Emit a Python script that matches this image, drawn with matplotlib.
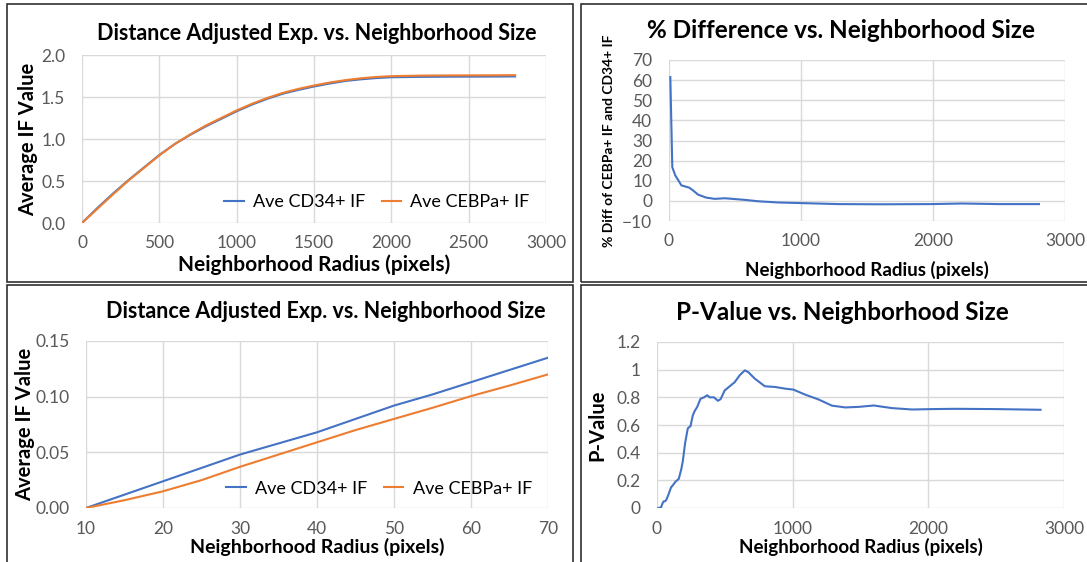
import matplotlib
matplotlib.use("Agg")
import matplotlib.pyplot as plt
import matplotlib.patches as mpatches

plt.rcParams["font.family"] = ["Lato", "DejaVu Sans"]

# ── Données ──────────────────────────────────────────────────────────
radius_full = [0, 100, 200, 300, 400, 500, 600, 700, 800, 900, 1000, 1100, 1200,
               1300, 1400, 1500, 1600, 1700, 1800, 1900, 2000, 2200, 2400, 2600, 2800]
cd34_full = [0.0, 0.18, 0.35, 0.51, 0.66, 0.81, 0.94, 1.05, 1.15, 1.24, 1.33, 1.41,
             1.48, 1.54, 1.585, 1.625, 1.66, 1.69, 1.71, 1.725, 1.735, 1.74, 1.742,
             1.743, 1.745]
cebpa_full = [0.0, 0.17, 0.34, 0.505, 0.655, 0.805, 0.94, 1.055, 1.16, 1.25, 1.34, 1.42,
              1.49, 1.55, 1.597, 1.637, 1.672, 1.70, 1.722, 1.738, 1.748, 1.755, 1.757,
              1.758, 1.76]

radius_diff = [10, 25, 48, 94, 152, 182, 220, 283, 347, 423, 575, 676, 828, 1000,
               1283, 1600, 1992, 2220, 2500, 2803]
pct_diff = [61.5, 16.7, 12.6, 7.7, 6.6, 5.2, 3.1, 1.6, 1.0, 1.3, 0.5, -0.2, -0.8,
            -1.1, -1.6, -1.7, -1.6, -1.3, -1.6, -1.6]

radius_small = [10, 15, 20, 25, 30, 35, 40, 45, 50, 55, 60, 65, 70]
cd34_small = [0.0, 0.012, 0.024, 0.036, 0.048, 0.058, 0.068, 0.080, 0.092, 0.102,
              0.113, 0.124, 0.135]
cebpa_small = [0.0, 0.007, 0.015, 0.025, 0.037, 0.048, 0.059, 0.070, 0.080, 0.090,
               0.1005, 0.110, 0.120]

radius_p = [10, 30, 42, 49, 59, 69, 84, 104, 116, 136, 160, 178, 190, 207, 227, 247,
            264, 277, 296, 321, 346, 370, 388, 420, 449, 469, 499, 536, 573, 610, 647,
            672, 721, 795, 869, 943, 1005, 1091, 1190, 1289, 1388, 1486, 1598, 1733,
            1881, 2030, 2202, 2499, 2827]
p_value = [0.0, 0.005, 0.036, 0.048, 0.048, 0.06, 0.096, 0.15, 0.163, 0.19, 0.21,
           0.276, 0.336, 0.468, 0.576, 0.592, 0.67, 0.70, 0.73, 0.79, 0.80, 0.815,
           0.80, 0.80, 0.775, 0.787, 0.85, 0.88, 0.91, 0.96, 0.995, 0.983, 0.935,
           0.88, 0.875, 0.863, 0.856, 0.82, 0.785, 0.74, 0.727, 0.731, 0.741, 0.722,
           0.712, 0.715, 0.717, 0.715, 0.71]

BLUE = "#4472C4"
ORANGE = "#ED7D31"
GRID = "#D9D9D9"
TICK = "#595959"

W, H = 1087, 562
fig = plt.figure(figsize=(W / 100, H / 100), dpi=100)


def px_axes(x0, y0, x1, y1):
    """Axes placé en pixels (origine en haut à gauche)."""
    return fig.add_axes([x0 / W, 1 - y1 / H, (x1 - x0) / W, (y1 - y0) / H])


def px_box(x0, y0, x1, y1):
    fig.patches.append(mpatches.Rectangle(
        (x0 / W, 1 - y1 / H), (x1 - x0) / W, (y1 - y0) / H,
        transform=fig.transFigure, fill=False, edgecolor="#303030", linewidth=1.2))


def px_title(x, y, text, size):
    fig.text(x / W, 1 - y / H, text, ha="center", va="center",
             fontsize=size, fontweight="bold")


def style(ax):
    for s in ax.spines.values():
        s.set_visible(False)
    ax.grid(True, color=GRID, linewidth=1)
    ax.set_axisbelow(True)
    ax.tick_params(length=0, labelsize=12.5, labelcolor=TICK)
    ax.tick_params(axis="x", pad=9)
    ax.tick_params(axis="y", pad=12)


# Cadres des quatre graphiques
px_box(7, 4, 573, 282)
px_box(581, 4, 1095, 282)
px_box(7, 285, 573, 570)
px_box(581, 285, 1095, 570)

# ── Haut gauche : courbe complète ───────────────────────────────────
ax1 = px_axes(82, 55, 546, 223)
ax1.plot(radius_full, cd34_full, color=BLUE, lw=1.5, label="Ave CD34+ IF")
ax1.plot(radius_full, cebpa_full, color=ORANGE, lw=1.5, label="Ave CEBPa+ IF")
ax1.set_xlim(0, 3000)
ax1.set_ylim(0, 2.0)
ax1.set_xticks(range(0, 3001, 500))
ax1.set_yticks([0, 0.5, 1.0, 1.5, 2.0])
ax1.set_yticklabels(["0.0", "0.5", "1.0", "1.5", "2.0"])
style(ax1)
px_title(317, 33, "Distance Adjusted Exp. vs. Neighborhood Size", 15.5)
ax1.set_xlabel("Neighborhood Radius (pixels)", fontsize=15, fontweight="bold", labelpad=2)
ax1.set_ylabel("Average IF Value", fontsize=14.5, fontweight="bold", labelpad=2)
ax1.legend(loc="lower right", ncol=2, frameon=False, fontsize=13,
           bbox_to_anchor=(1.0, -0.02), handlelength=1.1, handletextpad=0.5,
           columnspacing=0.9)

# ── Haut droite : % de différence ───────────────────────────────────
ax2 = px_axes(669, 60, 1065, 221)
ax2.plot(radius_diff, pct_diff, color=BLUE, lw=1.5)
ax2.set_xlim(0, 3000)
ax2.set_ylim(-10, 70)
ax2.set_xticks([0, 1000, 2000, 3000])
ax2.set_yticks(range(-10, 71, 10))
style(ax2)
px_title(841, 30, "% Difference vs. Neighborhood Size", 17.5)
ax2.set_xlabel("Neighborhood Radius (pixels)", fontsize=13.5, fontweight="bold", labelpad=8)
ax2.set_ylabel("% Diff of CEBPa+ IF and CD34+ IF", fontsize=10, fontweight="bold",
               labelpad=5)

# ── Bas gauche : zoom sur les petits rayons ─────────────────────────
ax3 = px_axes(86, 341, 548, 508)
ax3.plot(radius_small, cd34_small, color=BLUE, lw=1.5, label="Ave CD34+ IF")
ax3.plot(radius_small, cebpa_small, color=ORANGE, lw=1.5, label="Ave CEBPa+ IF")
ax3.set_xlim(10, 70)
ax3.set_ylim(0, 0.15)
ax3.set_xticks(range(10, 71, 10))
ax3.set_yticks([0, 0.05, 0.10, 0.15])
ax3.set_yticklabels(["0.00", "0.05", "0.10", "0.15"])
style(ax3)
px_title(326, 312, "Distance Adjusted Exp. vs. Neighborhood Size", 15.5)
ax3.set_xlabel("Neighborhood Radius (pixels)", fontsize=14, fontweight="bold", labelpad=1)
ax3.set_ylabel("Average IF Value", fontsize=14.5, fontweight="bold", labelpad=0)
ax3.legend(loc="lower right", ncol=2, frameon=False, fontsize=13,
           bbox_to_anchor=(1.0, -0.03), handlelength=1.1, handletextpad=0.5,
           columnspacing=0.9)

# ── Bas droite : p-value ────────────────────────────────────────────
ax4 = px_axes(657, 342, 1064, 508)
ax4.plot(radius_p, p_value, color=BLUE, lw=1.5)
ax4.set_xlim(0, 3000)
ax4.set_ylim(0, 1.2)
ax4.set_xticks([0, 1000, 2000, 3000])
ax4.set_yticks([0, 0.2, 0.4, 0.6, 0.8, 1.0, 1.2])
ax4.set_yticklabels(["0", "0.2", "0.4", "0.6", "0.8", "1", "1.2"])
style(ax4)
px_title(842, 312, "P-Value vs. Neighborhood Size", 17.5)
ax4.set_xlabel("Neighborhood Radius (pixels)", fontsize=13.5, fontweight="bold", labelpad=1)
ax4.set_ylabel("P-Value", fontsize=14.5, fontweight="bold", labelpad=6)

fig.savefig("out.png", dpi=100)
